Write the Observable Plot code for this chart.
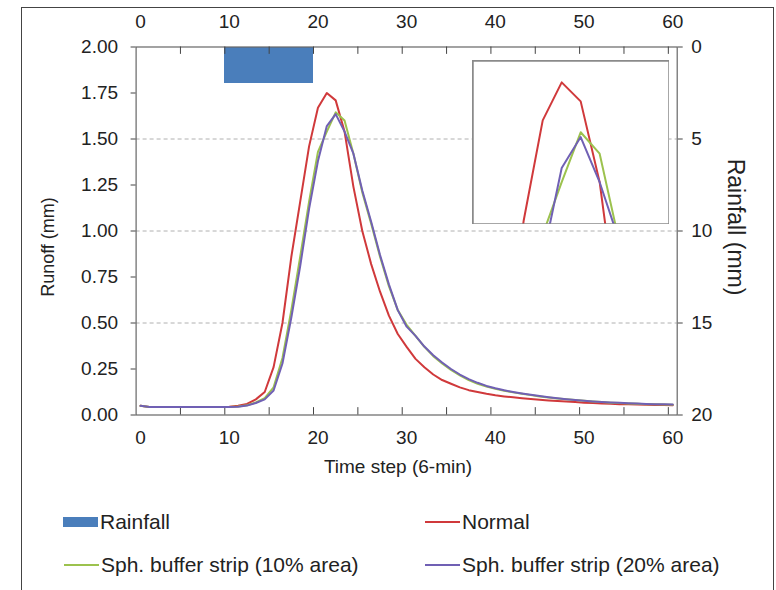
<!DOCTYPE html>
<html><head><meta charset="utf-8">
<script src="https://cdn.jsdelivr.net/npm/d3@7"></script>
<script src="https://cdn.jsdelivr.net/npm/@observablehq/plot@0.6"></script>
<style>
body{margin:0;background:#fff;}
#wrap{position:relative;width:776px;height:590px;overflow:hidden;font-family:"Liberation Sans",Arial,sans-serif;color:#222;background:#fff;}
#border{position:absolute;left:21px;top:7px;width:751px;height:640px;border:1.5px solid #444;}
.layer{position:absolute;left:0;top:0;}
#inset{position:absolute;left:472px;top:60px;}
.txt{position:absolute;white-space:nowrap;}
.leg{position:absolute;font-size:21px;white-space:nowrap;line-height:1;}
</style></head>
<body><div id="wrap"><div id="border"></div>
<div id="rainLayer" class="layer"></div>
<div id="mainLayer" class="layer"></div>
<div id="inset"></div>
</div>
<script>
// ---------- data ----------
const steps = d3.range(0, 61);
const normal = [0.05,0.044,0.044,0.044,0.044,0.044,0.044,0.044,0.044,0.044,0.045,0.05,0.06,0.085,0.125,0.26,0.50,0.86,1.16,1.46,1.67,1.75,1.71,1.54,1.24,1.0,0.82,0.67,0.54,0.44,0.37,0.305,0.26,0.22,0.19,0.17,0.15,0.135,0.125,0.115,0.107,0.101,0.096,0.091,0.087,0.083,0.079,0.076,0.073,0.07,0.067,0.065,0.063,0.061,0.059,0.058,0.057,0.056,0.055,0.054,0.053];
const strip10 = [0.05,0.044,0.044,0.044,0.044,0.044,0.044,0.044,0.044,0.044,0.044,0.046,0.053,0.068,0.092,0.15,0.31,0.57,0.86,1.16,1.43,1.54,1.645,1.60,1.42,1.21,1.04,0.86,0.70,0.57,0.49,0.43,0.37,0.32,0.28,0.245,0.215,0.19,0.17,0.155,0.142,0.132,0.123,0.115,0.108,0.101,0.095,0.09,0.085,0.081,0.077,0.073,0.07,0.067,0.065,0.063,0.061,0.059,0.058,0.057,0.056];
const strip20 = [0.05,0.044,0.044,0.044,0.044,0.044,0.044,0.044,0.044,0.044,0.044,0.045,0.051,0.065,0.085,0.133,0.28,0.53,0.81,1.12,1.38,1.57,1.635,1.54,1.42,1.22,1.05,0.87,0.71,0.57,0.48,0.43,0.372,0.325,0.285,0.25,0.22,0.195,0.175,0.158,0.145,0.134,0.125,0.117,0.11,0.103,0.097,0.091,0.086,0.082,0.078,0.074,0.071,0.068,0.066,0.064,0.062,0.06,0.059,0.058,0.057];
const rainSteps = [10,11,12,13,14,15,16,17,18,19];
const rainValues = [2,2,2,2,2,2,2,2,2,2];
const seriesNames = ["Normal","Sph. buffer strip (10% area)","Sph. buffer strip (20% area)"];
const seriesColors = ["#d0393b","#9cc24e","#7060b4"];
const rainColor = "#4a7ebb";
const xLabelTicks = [0,10,20,30,40,50,60];
const runoffTicks = [0,0.25,0.5,0.75,1,1.25,1.5,1.75,2];
const gridTicks = [0.5,1,1.5];
const rainTicks = [0,5,10,15,20];
const xMinorTicks = d3.range(4.5, 60, 5);

// ---------- build tables ----------
const seriesArrays = [normal, strip10, strip20];
const rows = [];
seriesArrays.forEach((arr, k) => arr.forEach((v, i) => rows.push({step: steps[i], v, series: seriesNames[k]})));
const rainRows = rainSteps.map((s, i) => ({step: s, rain: rainValues[i]}));

const W = 776, H = 480, mL = 135.6, mR = 99.3, mT = 46.5, mB = 65.5;
const xDom = [-0.5, 60.5];
const font = {fontFamily: '"Liberation Sans", Arial, sans-serif', fontSize: "19px", background: "transparent", color: "#222", overflow: "visible"};
const color = {domain: seriesNames, range: seriesColors};

// rainfall layer (secondary, reversed axis)
const rainPlot = Plot.plot({
  width: W, height: H, marginLeft: mL, marginRight: mR, marginTop: mT, marginBottom: mB,
  style: font,
  x: {domain: xDom, axis: null},
  y: {domain: [0, 20], reverse: true, axis: null},
  marks: [
    Plot.rect(rainRows, {x1: d => d.step - 0.5, x2: d => d.step + 0.5, y1: 0, y2: "rain", fill: rainColor, shapeRendering: "crispEdges"}),
    Plot.axisY({anchor: "right", ticks: rainTicks, tickSize: 5, tickPadding: 9, stroke: "#444", label: null})
  ]
});
document.getElementById("rainLayer").appendChild(rainPlot);

// main runoff layer
const mainPlot = Plot.plot({
  width: W, height: H, marginLeft: mL, marginRight: mR, marginTop: mT, marginBottom: mB,
  style: font,
  x: {domain: xDom, axis: null},
  y: {domain: [0, 2], axis: null},
  color,
  marks: [
    Plot.ruleY(gridTicks, {stroke: "#b0b0b0", strokeDasharray: "4,3"}),
    Plot.frame({stroke: "#666", strokeWidth: 1.2}),
    Plot.ruleX(xMinorTicks, {y1: 0, y2: 0.04, stroke: "#444"}),
    Plot.ruleX(xMinorTicks, {y1: 2, y2: 1.96, stroke: "#444"}),
    Plot.line(rows, {x: "step", y: "v", z: "series", stroke: "series", strokeWidth: 2}),
    Plot.axisX({anchor: "bottom", ticks: xLabelTicks, tickSize: 0, tickPadding: 15, label: null}),
    Plot.axisX({anchor: "top", ticks: xLabelTicks, tickSize: 0, tickPadding: 19, label: null}),
    Plot.axisY({anchor: "left", ticks: runoffTicks, tickFormat: d3.format(".2f"), tickSize: 5, tickPadding: 13, stroke: "#444", label: null})
  ]
});
document.getElementById("mainLayer").appendChild(mainPlot);

// inset (zoom on the peak)
const insetPlot = Plot.plot({
  width: 197, height: 164, margin: 0,
  style: {background: "#fff", overflow: "hidden"},
  x: {domain: [16.3, 26.68], axis: null},
  y: {domain: [1.451, 1.796], axis: null},
  color,
  marks: [
    Plot.line(rows, {x: "step", y: "v", z: "series", stroke: "series", strokeWidth: 2, clip: true}),
    Plot.frame({stroke: "#8a8a8a", strokeWidth: 2.5})
  ]
});
document.getElementById("inset").appendChild(insetPlot);

// titles and legend
const wrap = document.getElementById("wrap");
function addText(txt, css, cls = "txt") {
  const d = document.createElement("div");
  d.className = cls; d.textContent = txt;
  Object.assign(d.style, css);
  wrap.appendChild(d);
  return d;
}
addText("Time step (6-min)", {left: "398px", top: "456px", fontSize: "19px", transform: "translateX(-50%)"});
addText("Runoff (mm)", {left: "48px", top: "247px", fontSize: "18px", transform: "translate(-50%,-50%) rotate(-90deg)"});
addText("Rainfall (mm)", {left: "735px", top: "227px", fontSize: "23px", transform: "translate(-50%,-50%) rotate(90deg)"});

function swatch(x, y, w, h, c) {
  const d = document.createElement("div");
  Object.assign(d.style, {position: "absolute", left: x + "px", top: y + "px", width: w + "px", height: h + "px", background: c});
  wrap.appendChild(d);
}
const legendItems = [
  {label: "Rainfall", color: rainColor, x: 63, y: 522, box: true},
  {label: seriesNames[0], color: seriesColors[0], x: 425, y: 522},
  {label: seriesNames[1], color: seriesColors[1], x: 64, y: 565},
  {label: seriesNames[2], color: seriesColors[2], x: 425, y: 565}
];
legendItems.forEach(it => {
  if (it.box) swatch(it.x, it.y - 5, 35, 10, it.color);
  else swatch(it.x, it.y - 1, 35, 2, it.color);
  addText(it.label, {left: (it.x + 37) + "px", top: (it.y - 11) + "px"}, "leg");
});
</script></body></html>
